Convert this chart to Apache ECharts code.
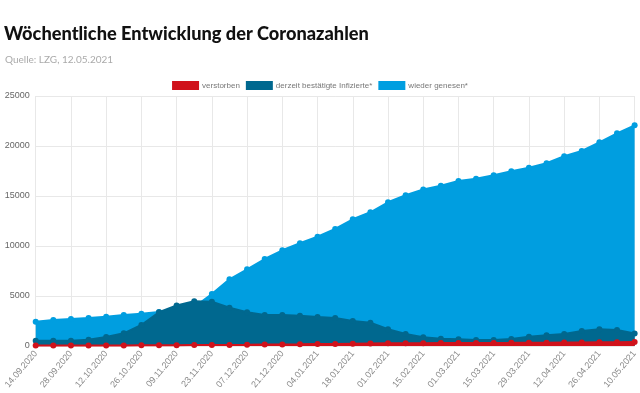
<!DOCTYPE html>
<html><head><meta charset="utf-8">
<script src="https://cdn.jsdelivr.net/npm/echarts@6/dist/echarts.min.js"></script>
<style>html,body{margin:0;padding:0;background:#fff}#c{width:640px;height:393px}</style>
</head><body><div id="c"></div>
<script>
const dates = ["14.09.2020","21.09.2020","28.09.2020","05.10.2020","12.10.2020","19.10.2020","26.10.2020","02.11.2020","09.11.2020","16.11.2020","23.11.2020","30.11.2020","07.12.2020","14.12.2020","21.12.2020","28.12.2020","04.01.2021","11.01.2021","18.01.2021","25.01.2021","01.02.2021","08.02.2021","15.02.2021","22.02.2021","01.03.2021","08.03.2021","15.03.2021","22.03.2021","29.03.2021","05.04.2021","12.04.2021","19.04.2021","26.04.2021","03.05.2021","10.05.2021"];
const verstorben = [40,45,50,50,55,60,65,70,80,90,100,110,120,140,160,170,190,210,230,250,265,275,285,295,300,305,310,315,325,335,345,355,365,375,390];
const infiziert = [530,520,530,630,900,1270,2100,3380,4050,4480,4420,3830,3370,3100,3100,3030,2900,2800,2500,2320,1670,1200,870,730,670,600,600,700,930,1070,1200,1500,1670,1600,1250];
const genesen = [2430,2600,2700,2800,2930,3100,3230,3400,3600,3900,5200,6670,7670,8700,9570,10270,10930,11700,12670,13370,14370,15070,15650,16030,16500,16730,17070,17470,17830,18270,18970,19500,20370,21270,22070];
const yTicks = [0,5000,10000,15000,20000,25000];
const names = ["verstorben","derzeit bestätigte Infizierte*","wieder genesen*"];
const colors = {red:"#d0121b", dark:"#00688f", light:"#009ee0"};

const chart = echarts.init(document.getElementById('c'), null, {renderer:'canvas'});
function mk(name, data, color, z){
  return {name, type:'line', data, z, symbol:'circle', symbolSize:6,
    lineStyle:{color, width:2}, itemStyle:{color},
    areaStyle:{color, opacity:1}, emphasis:{disabled:true}, animation:false};
}
chart.setOption({
  animation:false,
  title:[
    {text:'Wöchentliche Entwicklung der Coronazahlen', left:4, top:25, padding:0,
     textStyle:{fontFamily:'Lato', fontWeight:900, fontSize:18.2, color:'#111'}},
    {text:'Quelle: LZG, 12.05.2021', left:5, top:55, padding:0,
     textStyle:{fontFamily:'Lato', fontWeight:'normal', fontSize:10, color:'#aaa'}}
  ],
  legend:{data:names, top:81, left:'center', itemWidth:27, itemHeight:9, itemGap:6, padding:0,
    icon:'rect', textStyle:{fontFamily:'Liberation Sans', fontSize:8, color:'#777', padding:[0,0,0,-2]}},
  grid:{left:35.7, right:4, top:96, bottom:47, containLabel:false},
  xAxis:{type:'category', data:dates, boundaryGap:false,
    axisLine:{show:false}, axisTick:{show:false},
    axisLabel:{interval:1, rotate:50, fontSize:9, color:'#888', fontFamily:'Liberation Sans', margin:6},
    splitLine:{show:true, interval:1, lineStyle:{color:'#e8e8e8', width:1}}},
  yAxis:{type:'value', min:yTicks[0], max:yTicks[yTicks.length-1], interval:5000,
    axisLine:{show:false}, axisTick:{show:false},
    axisLabel:{fontSize:9, color:'#666', fontFamily:'Liberation Sans', margin:6, formatter:v=>String(v)},
    splitLine:{lineStyle:{color:'#e8e8e8', width:1}}},
  series:[
    mk(names[2], genesen, colors.light, 1),
    mk(names[1], infiziert, colors.dark, 2),
    mk(names[0], verstorben, colors.red, 3)
  ]
});
</script></body></html>
